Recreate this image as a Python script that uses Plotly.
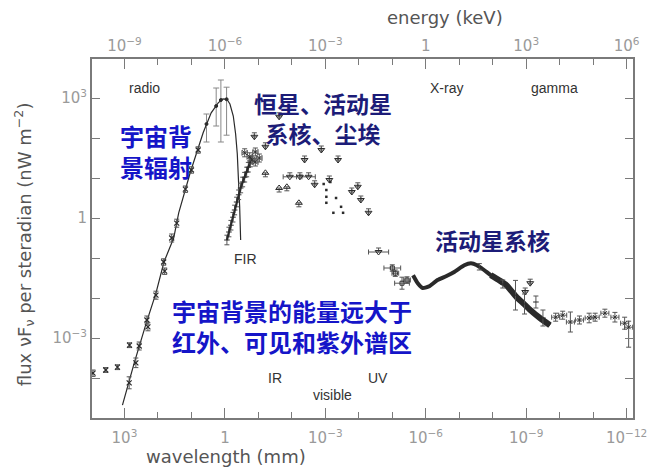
import numpy as np
import plotly.graph_objects as go

# ---- data: log10 wavelength [mm] and log10 flux nuF_nu [nW m^-2 sr^-1] ----
# CMB blackbody curve
cmb_lw = [3.06, 2.71, 2.35, 2.06, 1.82, 1.53, 1.38, 1.03, 0.65, 0.41, 0.20, 0.06, -0.06, -0.15, -0.25, -0.32, -0.37, -0.41, -0.44, -0.47]
cmb_lf = [-4.68, -3.63, -2.63, -1.88, -1.10, -0.50, 0.13, 1.15, 2.13, 2.63, 2.88, 2.98, 2.97, 2.85, 2.55, 2.10, 1.60, 1.00, 0.30, -0.55]

# radio / microwave measurements along the Rayleigh-Jeans side
rad_lw = [2.86, 2.66, 2.56, 2.33, 2.30, 2.06, 1.83, 1.80, 1.59, 1.44, 1.18, 1.00, 0.80]
rad_lf = [-4.12, -3.62, -3.20, -2.55, -2.72, -1.93, -1.10, -1.33, -0.50, -0.13, 0.72, 1.20, 1.70]
rad_err = [0.15, 0.12, 0.10, 0.10, 0.10, 0.10, 0.08, 0.08, 0.10, 0.10, 0.08, 0.08, 0.08]

# low-frequency radio background
lowf_lw = [3.94, 3.56, 3.21, 2.85]
lowf_lf = [-3.88, -3.80, -3.73, -3.18]
lowf_err = [0.08, 0.06, 0.06, 0.06]

# CMB peak measurements (asymmetric errors, dex)
peak_lw = [0.55, 0.26, 0.12, -0.05]
peak_lf = [2.35, 2.80, 2.95, 2.97]
peak_up = [0.25, 0.45, 0.50, 0.30]
peak_dn = [0.45, 0.50, 1.05, 0.90]

# far-infrared background (FIRAS band)
firas_lw = [-0.06, -0.12, -0.18, -0.24, -0.29, -0.35, -0.41, -0.47, -0.53, -0.59, -0.65, -0.70, -0.76]
firas_lf = [-0.55, -0.35, -0.18, 0.02, 0.20, 0.40, 0.58, 0.75, 0.90, 1.02, 1.15, 1.27, 1.40]

# DIRBE points
dirbe_lw = [-0.59, -0.74, -0.91, -1.03, -0.91, -0.80]
dirbe_lf = [1.63, 1.53, 1.40, 1.50, 1.65, 1.45]

# upper limits
ul_lw = [-0.88, -1.21, -1.62, -2.38, -2.88, -3.38, -1.94, -2.24, -2.50, -2.68, -3.12, -3.97, -3.79, -4.06, -4.29, -4.59, -8.97, -9.12]
ul_lf = [2.03, 1.78, 2.53, 1.45, 1.70, 1.45, 1.03, 1.03, 1.03, 0.83, 0.95, 0.78, 0.65, 0.45, 0.13, -0.85, -1.85, -1.63]
ul_xerr = [0, 0, 0, 0, 0, 0, 0.20, 0, 0.20, 0, 0, 0, 0, 0, 0, 0.30, 0, 0]

# lower limits
ll_lw = [-1.21, -1.62, -1.85, -2.21]
ll_lf = [1.13, 0.75, 0.78, 0.38]

# optical fluctuation / dot measurements
dot_lw = [-3.03, -3.03, -3.03, -3.32, -3.47, -3.24, -3.53, -2.95, -3.15]
dot_lf = [0.70, 0.53, 0.38, 0.50, 0.28, 0.13, 0.13, 0.85, 0.90]

# soft X-ray points
xs_lw = [-5.00, -5.09, -5.29, -5.44]
xs_lf = [-1.25, -1.38, -1.63, -1.55]
xs_xerr = [0.25, 0.10, 0.22, 0.10]
xs_yerr = [0.08, 0.08, 0.15, 0.08]

# cosmic X-ray background
cxb_lw = [-5.62, -5.76, -5.91, -6.12, -6.35, -6.62, -6.85, -7.15, -7.35, -7.53, -7.74, -7.94, -8.18, -8.41, -8.71, -8.91, -9.12, -9.41, -9.71]
cxb_lf = [-1.43, -1.63, -1.75, -1.70, -1.55, -1.45, -1.35, -1.18, -1.13, -1.18, -1.30, -1.43, -1.55, -1.68, -1.98, -2.13, -2.30, -2.50, -2.68]
cxbe_lw = [-8.68, -9.29, -8.30, -9.50, -7.60, -8.95]
cxbe_lf = [-1.93, -2.10, -1.65, -2.50, -1.22, -2.15]
cxbe_err = [0.37, 0.15, 0.10, 0.20, 0.08, 0.25]

# gamma-ray background
gam_lw = [-9.88, -10.09, -10.32, -10.59, -10.88, -11.06, -11.35, -11.65, -11.94, -12.06]
gam_lf = [-2.48, -2.43, -2.60, -2.55, -2.50, -2.48, -2.38, -2.48, -2.63, -2.73]
gam_up = [0.10, 0.10, 0.25, 0.10, 0.12, 0.10, 0.10, 0.12, 0.15, 0.15]
gam_dn = [0.10, 0.10, 0.25, 0.10, 0.12, 0.10, 0.10, 0.12, 0.15, 0.50]
gam_xerr = [0.12] * 10

# axis ticks (log10)
wl_major = [3, 0, -3, -6, -9, -12]
wl_minor = [2, 1, -1, -2, -4, -5, -7, -8, -10, -11]
en_major = [-9, -6, -3, 0, 3, 6]
en_minor = [-8, -7, -5, -4, -2, -1, 1, 2, 4, 5]
fl_major = [3, 0, -3]
fl_minor = [2, 1, -1, -2, -4]

X_RANGE = [3.97, -12.19]
Y_RANGE = [-5.0, 3.975]

INK = "#2a2a2a"
ERR = "#555555"


def lin(v):
    return 10 ** np.asarray(v, dtype=float)


def err_plus(lv, e):
    return lin(lv) * (10 ** np.asarray(e, dtype=float) - 1)


def err_minus(lv, e):
    return lin(lv) * (1 - 10 ** (-np.asarray(e, dtype=float)))


def powlabel(k):
    if k == 0:
        return "1"
    if k < 0:
        return "10<sup>\u2212%d</sup>" % (-k)
    return "10<sup>%d</sup>" % k


def mk(symbol, size, width=1.0):
    return dict(symbol=symbol, size=size, color=INK, line=dict(width=width, color=INK))


fig = go.Figure()

eb = dict(color=ERR, thickness=1, width=2.5)

# CMB curve
fig.add_trace(go.Scatter(x=lin(cmb_lw), y=lin(cmb_lf), mode="lines",
                         line=dict(color=INK, width=1.2), showlegend=False))

# radio points
fig.add_trace(go.Scatter(x=lin(rad_lw), y=lin(rad_lf), mode="markers",
                         marker=mk("x-thin-open", 5, 1.2),
                         error_y=dict(type="data", symmetric=False, array=err_plus(rad_lf, rad_err),
                                      arrayminus=err_minus(rad_lf, rad_err), **eb),
                         showlegend=False))
fig.add_trace(go.Scatter(x=lin(lowf_lw), y=lin(lowf_lf), mode="markers",
                         marker=mk("x-thin-open", 5, 1.2),
                         error_y=dict(type="data", symmetric=False, array=err_plus(lowf_lf, lowf_err),
                                      arrayminus=err_minus(lowf_lf, lowf_err), **eb),
                         showlegend=False))

# CMB peak points
fig.add_trace(go.Scatter(x=lin(peak_lw), y=lin(peak_lf), mode="markers",
                         marker=mk("circle", 3),
                         error_y=dict(type="data", symmetric=False, array=err_plus(peak_lf, peak_up),
                                      arrayminus=err_minus(peak_lf, peak_dn), color="#888", thickness=1, width=3),
                         showlegend=False))

# FIRAS band
fig.add_trace(go.Scatter(x=lin(firas_lw), y=lin(firas_lf), mode="lines+markers",
                         line=dict(color=INK, width=2.2),
                         marker=mk("line-ew", 4),
                         error_y=dict(type="data", array=err_plus(firas_lf, [0.12] * len(firas_lf)),
                                      arrayminus=err_minus(firas_lf, [0.12] * len(firas_lf)),
                                      symmetric=False, **eb),
                         showlegend=False))

# DIRBE
fig.add_trace(go.Scatter(x=lin(dirbe_lw), y=lin(dirbe_lf), mode="markers",
                         marker=mk("x-thin-open", 5),
                         error_y=dict(type="data", array=err_plus(dirbe_lf, [0.1] * 6),
                                      arrayminus=err_minus(dirbe_lf, [0.1] * 6), symmetric=False, **eb),
                         error_x=dict(type="data", array=err_plus(dirbe_lw, [0.08] * 6),
                                      arrayminus=err_minus(dirbe_lw, [0.08] * 6), symmetric=False, **eb),
                         showlegend=False))

# upper limits
fig.add_trace(go.Scatter(x=lin(ul_lw), y=lin(ul_lf), mode="markers",
                         marker=mk("triangle-down-open", 6),
                         error_y=dict(type="data", symmetric=False, array=err_plus(ul_lf, [0.1] * len(ul_lf)),
                                      arrayminus=[0] * len(ul_lf), **eb),
                         error_x=dict(type="data", symmetric=False, array=err_plus(ul_lw, ul_xerr),
                                      arrayminus=err_minus(ul_lw, ul_xerr), **eb),
                         showlegend=False))

# lower limits
fig.add_trace(go.Scatter(x=lin(ll_lw), y=lin(ll_lf), mode="markers",
                         marker=mk("triangle-up-open", 6),
                         error_y=dict(type="data", symmetric=False, array=[0] * len(ll_lf),
                                      arrayminus=err_minus(ll_lf, [0.1] * len(ll_lf)), **eb),
                         showlegend=False))

# dots
fig.add_trace(go.Scatter(x=lin(dot_lw), y=lin(dot_lf), mode="markers",
                         marker=mk("square", 2.5, 0), showlegend=False))

# soft X-ray
fig.add_trace(go.Scatter(x=lin(xs_lw), y=lin(xs_lf), mode="markers",
                         marker=mk("square-open", 4),
                         error_y=dict(type="data", symmetric=False, array=err_plus(xs_lf, xs_yerr),
                                      arrayminus=err_minus(xs_lf, xs_yerr), **eb),
                         error_x=dict(type="data", symmetric=False, array=err_plus(xs_lw, xs_xerr),
                                      arrayminus=err_minus(xs_lw, xs_xerr), **eb),
                         showlegend=False))

# cosmic X-ray background: thinner rising part, denser falling part
fig.add_trace(go.Scatter(x=lin(cxb_lw), y=lin(cxb_lf), mode="lines",
                         line=dict(color=INK, width=4, shape="spline", smoothing=0.5), showlegend=False))
fig.add_trace(go.Scatter(x=lin(cxb_lw[11:]), y=lin(cxb_lf[11:]), mode="lines",
                         line=dict(color=INK, width=6, shape="spline", smoothing=0.5), showlegend=False))
fig.add_trace(go.Scatter(x=lin(cxbe_lw), y=lin(cxbe_lf), mode="markers",
                         marker=mk("line-ew", 4),
                         error_y=dict(type="data", symmetric=False, array=err_plus(cxbe_lf, cxbe_err),
                                      arrayminus=err_minus(cxbe_lf, cxbe_err), **eb),
                         showlegend=False))

# gamma-ray background
fig.add_trace(go.Scatter(x=lin(gam_lw), y=lin(gam_lf), mode="markers",
                         marker=mk("x-thin-open", 4),
                         error_y=dict(type="data", symmetric=False, array=err_plus(gam_lf, gam_up),
                                      arrayminus=err_minus(gam_lf, gam_dn), **eb),
                         error_x=dict(type="data", symmetric=False, array=err_plus(gam_lw, gam_xerr),
                                      arrayminus=err_minus(gam_lw, gam_xerr), **eb),
                         showlegend=False))

W, H = 659, 471
L, R, T, B = 92, 17, 59, 53
PW, PH = W - L - R, H - T - B


def px(x):
    return (x - L) / PW


def py(y):
    return (H - B - y) / PH


frame = "#7a7a7a"
tickfont = dict(family="DejaVu Sans", size=15, color="#9a9a9a")

fig.update_layout(
    width=W, height=H,
    margin=dict(l=L, r=R, t=T, b=B),
    paper_bgcolor="white", plot_bgcolor="white",
    xaxis=dict(type="log", range=X_RANGE, showgrid=False, zeroline=False,
               showline=True, linecolor=frame, linewidth=2, mirror=True,
               ticks="inside", ticklen=10, tickwidth=1.3, tickcolor=frame,
               ticklabelstandoff=5,
               tickmode="array", tickvals=lin(wl_major).tolist(),
               ticktext=[powlabel(k) for k in wl_major], tickfont=tickfont,
               minor=dict(ticks="inside", ticklen=6, tickwidth=1.3, tickcolor=frame,
                          tickmode="array", tickvals=lin(wl_minor).tolist(), showgrid=False)),
    xaxis2=dict(type="log", range=[-6 - X_RANGE[0], -6 - X_RANGE[1]], overlaying="x", side="top",
                anchor="y", showgrid=False, zeroline=False, showline=False,
                ticks="inside", ticklen=10, tickwidth=1.3, tickcolor=frame,
                ticklabelstandoff=4,
                tickmode="array", tickvals=lin(en_major).tolist(),
                ticktext=[powlabel(k) for k in en_major], tickfont=tickfont,
                minor=dict(ticks="inside", ticklen=6, tickwidth=1.3, tickcolor=frame,
                           tickmode="array", tickvals=lin(en_minor).tolist(), showgrid=False)),
    yaxis=dict(type="log", range=Y_RANGE, showgrid=False, zeroline=False,
               showline=True, linecolor=frame, linewidth=2, mirror="ticks",
               ticks="inside", ticklen=8, tickwidth=1.3, tickcolor=frame,
               tickmode="array", tickvals=lin(fl_major).tolist(),
               ticktext=[powlabel(k) for k in fl_major], tickfont=tickfont,
               minor=dict(ticks="inside", ticklen=8, tickwidth=1.3, tickcolor=frame,
                          tickmode="array", tickvals=lin(fl_minor).tolist(), showgrid=False)),
    showlegend=False,
)

# energy axis carrier (same CMB curve expressed in keV)
fig.add_trace(go.Scatter(x=lin(-6 - np.asarray(cmb_lw)), y=lin(cmb_lf), xaxis="x2", yaxis="y",
                         mode="lines", line=dict(width=0), opacity=0, hoverinfo="skip", showlegend=False))

title_font = dict(family="DejaVu Sans", size=18, color="#555555")
band_font = dict(family="Liberation Sans, Arial", size=14, color="#333333")
blue_font = dict(family="Noto Sans CJK SC", size=24, color="#1515c8")
navy_font = dict(family="Noto Sans CJK SC", size=23, color="#1c1c78")

ann = []
ann.append(dict(text="energy (keV)", x=px(451), y=py(18), font=title_font))
ann.append(dict(text="wavelength (mm)", x=px(145), y=py(456), xanchor="left", font=title_font))
ann.append(dict(text="flux \u03bdF<sub>\u03bd</sub> per steradian (nW m<sup>\u22122</sup>)",
                x=px(23), y=py(244), textangle=-90, font=title_font))

for label, cx, cy in [("radio", 145, 88), ("X-ray", 452, 88), ("gamma", 562, 88),
                      ("FIR", 248, 259), ("IR", 278, 378), ("visible", 336, 395), ("UV", 383, 378)]:
    ann.append(dict(text=label, x=px(cx), y=py(cy), font=band_font))

ann.append(dict(text="<b>宇宙背</b><br><b>景辐射</b>", x=px(118), y=py(151), xanchor="left",
                align="left", font=blue_font))
ann.append(dict(text="<b>恒星、活动星</b><br><b>系核、尘埃</b>", x=px(327), y=py(118),
                align="center", font=navy_font))
ann.append(dict(text="<b>活动星系核</b>", x=px(499), y=py(240), font=navy_font))
ann.append(dict(text="<b>宇宙背景的能量远大于</b><br><b>红外、可见和紫外谱区</b>", x=px(171), y=py(326),
                xanchor="left", align="left", font=blue_font))

for a in ann:
    a.setdefault("xanchor", "center")
    a.update(xref="paper", yref="paper", showarrow=False, yanchor="middle")
fig.update_layout(annotations=ann)

fig.write_html("out.html")
